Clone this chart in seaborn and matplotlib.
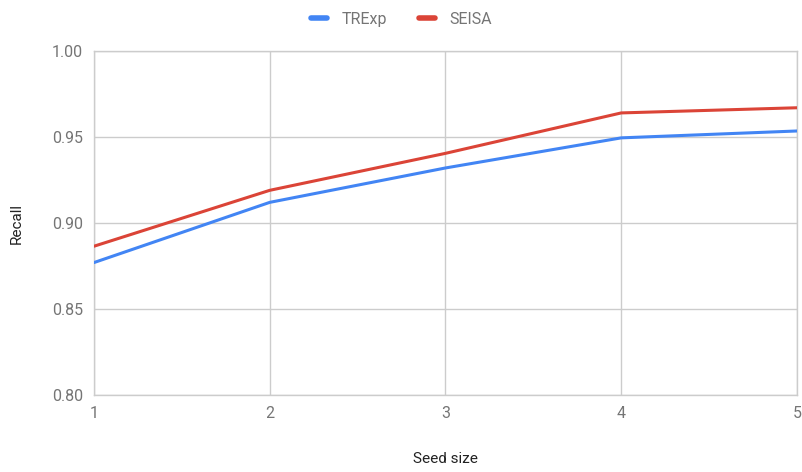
import matplotlib
matplotlib.use("Agg")
import matplotlib.pyplot as plt
import seaborn as sns
import pandas as pd
from matplotlib.lines import Line2D

seed_size = [1, 2, 3, 4, 5]
trexp = [0.877, 0.912, 0.932, 0.9495, 0.9535]
seisa = [0.8865, 0.919, 0.9405, 0.964, 0.967]
series_names = ["TRExp", "SEISA"]
y_ticks = [0.80, 0.85, 0.90, 0.95, 1.00]

df = pd.DataFrame({
    "Seed size": seed_size * 2,
    "Recall": trexp + seisa,
    "series": [series_names[0]] * len(seed_size) + [series_names[1]] * len(seed_size),
})

sns.set_theme(style="white")
plt.rcParams["font.family"] = ["Roboto", "DejaVu Sans"]

fig = plt.figure(figsize=(8.03, 4.72), dpi=100)
ax = fig.add_axes([94 / 803, 1 - 395 / 472, (797 - 94) / 803, (395 - 51) / 472])

palette = {"TRExp": "#4285f4", "SEISA": "#db4437"}
sns.lineplot(data=df, x="Seed size", y="Recall", hue="series", palette=palette,
             linewidth=2.2, ax=ax, legend=False, zorder=3)

ax.set_xlim(1, 5)
ax.set_ylim(0.80, 1.00)
ax.set_xticks(seed_size)
ax.set_xticklabels([str(s) for s in seed_size])
ax.set_yticks(y_ticks)
ax.set_yticklabels([f"{v:.2f}" for v in y_ticks])
ax.grid(True, color="#cccccc", linewidth=1)
ax.tick_params(axis="both", length=0, labelsize=11.5, labelcolor="#757575", pad=8)
ax.tick_params(axis="y", pad=8)
for s in ax.spines.values():
    s.set_color("#cccccc")
    s.set_linewidth(1)

ax.set_xlabel("Seed size", fontsize=11, color="#222222", labelpad=22)
ax.set_ylabel("Recall", fontsize=11, color="#222222", labelpad=20)

handles = [Line2D([0], [0], color=palette[n], linewidth=4) for n in series_names]
fig.legend(handles, series_names, loc="upper center", bbox_to_anchor=(0.5, 1.005), ncol=2,
           frameon=False, fontsize=11.5, handlelength=1.0, handletextpad=0.9,
           columnspacing=2.0, labelcolor="#757575")

fig.savefig("out.png", dpi=100)
